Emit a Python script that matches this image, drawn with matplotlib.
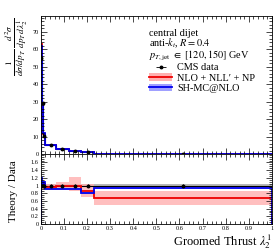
import numpy as np
from matplotlib import pyplot as plt
from matplotlib.ticker import MultipleLocator

plt.rcParams['font.family'] = 'Liberation Serif'
plt.rcParams['mathtext.fontset'] = 'stix'
plt.rcParams['font.size'] = 7.4
plt.rcParams['xtick.labelsize'] = 4.5
plt.rcParams['ytick.labelsize'] = 4.5

# bin edges of groomed thrust
edges = [0, 0.005, 0.01, 0.02, 0.065, 0.12, 0.175, 0.23, 1.0]

# main panel: normalised distributions
cms = [55, 29, 10.5, 5.0, 2.9, 1.8, 1.2, 0.15]
cms_err = [2.0, 1.0, 0.5, 0.2, 0.1, 0.1, 0.1, 0.02]
nlo = [63, 29, 11.5, 5.2, 3.0, 2.0, 1.1, 0.1]
nlo_lo = [57, 26, 10.2, 4.5, 2.6, 1.6, 0.9, 0.08]
nlo_hi = [68, 32, 12.8, 5.6, 3.3, 2.3, 1.3, 0.13]
shmc = [62, 29, 12, 5.0, 2.8, 1.8, 1.0, 0.15]

# ratio panel: theory / data
r_cms_err = [0.03, 0.03, 0.03, 0.03, 0.03, 0.03, 0.03, 0.03]
r_nlo = [1.0, 1.0, 1.05, 0.96, 1.0, 1.0, 0.87, 0.68]
r_nlo_lo = [0.9, 0.9, 0.9, 0.88, 0.88, 0.86, 0.7, 0.5]
r_nlo_hi = [1.1, 1.1, 1.15, 1.03, 1.1, 1.22, 1.03, 0.87]
r_shmc = [1.2, 1.05, 1.1, 0.92, 0.92, 0.92, 0.8, 0.93]
r_shmc_err = [0.02, 0.02, 0.02, 0.02, 0.02, 0.02, 0.02, 0.02]

edges = np.array(edges)
centers = 0.5 * (edges[1:] + edges[:-1])
ones = np.ones(len(centers))

fig = plt.figure(figsize=(2.8, 2.5), dpi=100)
ax = fig.add_axes([0.146, 0.384, 0.825, 0.552])
rx = fig.add_axes([0.146, 0.104, 0.825, 0.28], sharex=ax)

red, pink = '#ee0000', '#ffb0b0'
blue, lblue = '#0000ee', '#a0a0ff'

# main panel
ax.stairs(nlo_hi, edges, baseline=nlo_lo, fill=True, color=pink, alpha=0.8, lw=0)
ax.stairs(nlo, edges, color=red, lw=1.3)
ax.stairs(cms, edges, color='k', lw=0.8)
ax.stairs(shmc, edges, color=blue, lw=1.3)
ax.errorbar(centers, cms, yerr=cms_err, fmt='o', color='k', ms=1.8, lw=0.6)
ax.set_ylim(0, 79)
ax.set_xlim(0, 1)
ax.yaxis.set_major_locator(MultipleLocator(10))
ax.yaxis.set_minor_locator(MultipleLocator(2))
plt.setp(ax.get_xticklabels(), visible=False)

# legend and labels
ax.text(0.47, 0.905,
        'central dijet\n' r'anti-$k_t$, $R = 0.4$' '\n' r'$p_{T,\mathrm{jet}}\ \in\ [120, 150]$ GeV',
        transform=ax.transAxes, va='top', linespacing=0.88)
h1 = ax.errorbar([], [], xerr=[], fmt='o', color='k', ms=1.8, lw=0.6)
h2 = (ax.fill_between([], [], color=pink, lw=0), ax.plot([], [], color=red, lw=1.3)[0])
h3 = (ax.fill_between([], [], color=lblue, lw=0), ax.plot([], [], color=blue, lw=1.3)[0])
ax.legend([h1, h2, h3], ['CMS data', 'NLO + NLL\u2032 + NP', 'SH-MC@NLO'],
          loc='upper left', bbox_to_anchor=(0.47, 0.66), frameon=False,
          handlelength=2.2, handletextpad=0.5, labelspacing=0.12, borderpad=0,
          borderaxespad=0)

fig.text(0.06, 0.93,
         r'$\frac{1}{d\sigma/dp_T}\,\frac{d^2\sigma}{dp_T\,d\lambda_2^1}$',
         rotation=90, ha='center', va='top', fontsize=9.5)

# ratio panel
rx.stairs(1 + np.array(r_cms_err), edges, baseline=1 - np.array(r_cms_err),
          fill=True, color='#999999', alpha=0.7, lw=0)
rx.stairs(r_nlo_hi, edges, baseline=r_nlo_lo, fill=True, color=pink, alpha=0.8, lw=0)
rx.stairs(np.array(r_shmc) + r_shmc_err, edges, baseline=np.array(r_shmc) - r_shmc_err,
          fill=True, color=lblue, alpha=0.8, lw=0)
rx.stairs(ones, edges, color='k', lw=0.8)
rx.stairs(r_nlo, edges, color=red, lw=1.3)
rx.stairs(r_shmc, edges, color=blue, lw=1.3)
rx.errorbar(centers, ones, yerr=r_cms_err, fmt='o', color='k', ms=1.8, lw=0.6)
rx.set_ylim(0, 1.82)
rx.yaxis.set_minor_locator(MultipleLocator(0.05))
rx.xaxis.set_minor_locator(MultipleLocator(0.02))
rx.set_yticks(np.arange(0, 1.61, 0.2))
rx.set_yticklabels(['0', '0.2', '0.4', '0.6', '0.8', '1', '1.2', '1.4', '1.6'])
rx.set_xticks(np.arange(0, 1.01, 0.1))
rx.set_xticklabels(['0', '0.1', '0.2', '0.3', '0.4', '0.5', '0.6', '0.7', '0.8', '0.9', '1'])
rx.set_xlabel(r'Groomed Thrust $\lambda_2^1$', loc='right', fontsize=9, labelpad=1)
fig.text(0.05, 0.36, 'Theory / Data', rotation=90, ha='center', va='top', fontsize=8)

for a in (ax, rx):
    a.tick_params(which='both', direction='in', top=True, right=True, width=0.5, pad=1.5)
    a.tick_params(which='major', length=4)
    a.tick_params(which='minor', length=2)
    for s in a.spines.values():
        s.set_linewidth(0.6)

fig.savefig('out.png', dpi=100)
